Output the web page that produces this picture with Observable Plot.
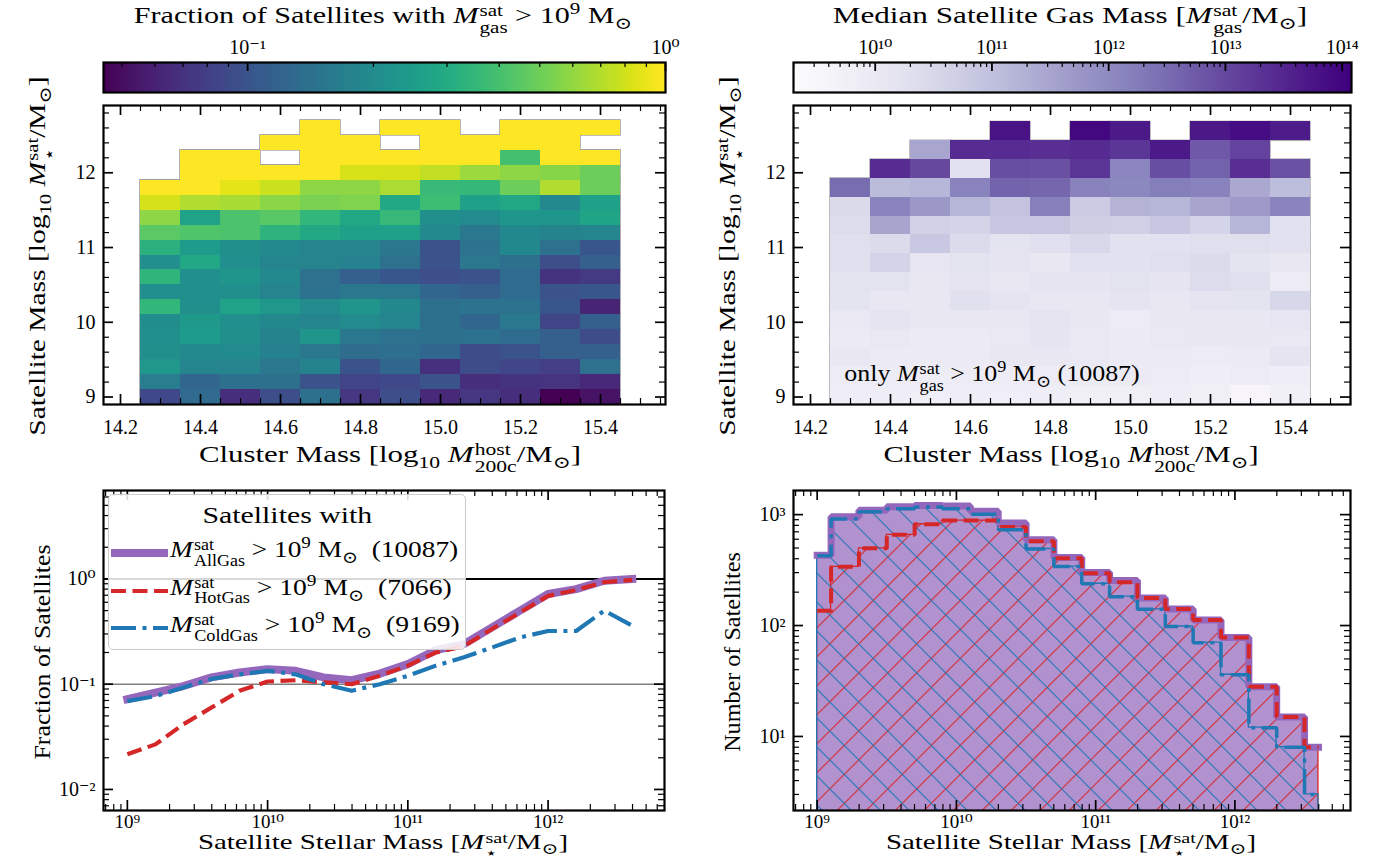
<!DOCTYPE html>
<html><head><meta charset="utf-8">
<script src="https://cdn.jsdelivr.net/npm/d3@7"></script>
<script src="https://cdn.jsdelivr.net/npm/@observablehq/plot@0.6"></script>
<style>
html,body{margin:0;padding:0;background:#fff;}
#root{position:relative;width:1387px;height:863px;overflow:hidden;font-family:"Liberation Serif","DejaVu Serif",serif;color:#000;}
.t{position:absolute;white-space:nowrap;transform:translate(-50%,-50%);font-size:24px;line-height:1;}
.ss{display:inline-flex;flex-direction:column;vertical-align:0.42em;font-size:0.7em;line-height:1;margin-left:1px;text-align:left;}
.ss>span{display:block;}
sub.o,sup.o{font-size:0.7em;line-height:0;}
.legend{position:absolute;background:rgba(255,255,255,0.85);border:1.5px solid #ccc;border-radius:5px;box-sizing:border-box;}
.lrow{position:absolute;white-space:nowrap;font-size:24px;line-height:1;transform:translateY(-50%);}
.lrow .ss{font-size:0.66em;vertical-align:0.45em;}
.ltxt{display:inline-block;transform-origin:0 50%;}
</style></head>
<body><div id="root"></div>
<script>
// ================= DATA =================
// Top-left: fraction of satellites with M_gas > 1e9 Msun, per (cluster mass, satellite mass) bin
const hostMassEdges = [14.25,14.35,14.45,14.55,14.65,14.75,14.85,14.95,15.05,15.15,15.25,15.35,15.45];
const satMassEdgesFrac = [12.7,12.5,12.3,12.1,11.9,11.7,11.5,11.3,11.1,10.9,10.7,10.5,10.3,10.1,9.9,9.7,9.5,9.3,9.1,8.9]; // top -> bottom
const N = null;
const gasFraction = [
 [N,N,N,N,1,N,1,1,N,1,1,1],
 [N,N,N,1,1,1,N,1,1,1,1,N],
 [N,1,1,N,1,1,1,1,1,0.395,1,1],
 [N,1,1,1,1,0.83,0.818,0.757,0.63,0.59,0.573,0.498],
 [1,1,0.883,0.78,0.59,0.59,0.679,0.366,0.354,0.498,0.69,0.498],
 [0.818,0.69,0.668,0.582,0.538,0.547,0.29,0.377,0.26,0.285,0.194,0.26],
 [0.59,0.268,0.414,0.447,0.349,0.285,0.36,0.2125,0.2,0.23,0.23,0.277],
 [0.454,0.427,0.414,0.333,0.29,0.26,0.26,0.194,0.156,0.191,0.18,0.185],
 [0.328,0.244,0.2125,0.194,0.182,0.182,0.154,0.0995,0.147,0.191,0.142,0.104],
 [0.209,0.29,0.21,0.185,0.182,0.177,0.142,0.0995,0.154,0.14,0.0935,0.114],
 [0.338,0.21,0.226,0.194,0.142,0.114,0.104,0.0935,0.0995,0.132,0.0708,0.0753],
 [0.209,0.21,0.2125,0.182,0.144,0.156,0.156,0.126,0.114,0.132,0.0995,0.103],
 [0.349,0.2125,0.268,0.237,0.197,0.226,0.191,0.14,0.147,0.144,0.103,0.0616],
 [0.204,0.24,0.209,0.191,0.185,0.197,0.185,0.14,0.126,0.156,0.084,0.114],
 [0.21,0.244,0.2125,0.18,0.226,0.156,0.142,0.14,0.144,0.132,0.114,0.092],
 [0.2125,0.194,0.2,0.175,0.156,0.134,0.136,0.126,0.092,0.0995,0.114,0.114],
 [0.237,0.185,0.182,0.154,0.18,0.0995,0.126,0.0697,0.092,0.0865,0.0789,0.142],
 [0.166,0.126,0.14,0.14,0.0995,0.084,0.088,0.0995,0.0676,0.0708,0.0719,0.0635],
 [0.088,0.13,0.0676,0.095,0.14,0.0741,0.0935,0.0635,0.0741,0.0676,0.0452,0.0527]
];
// Top-right: median satellite gas mass (log10 Msun)
const satMassEdgesGas = [12.68,12.428,12.176,11.924,11.672,11.42,11.168,10.916,10.664,10.412,10.16,9.908,9.656,9.404,9.152,8.9]; // top -> bottom
const medianGasLog = [
 [N,N,N,N,13.79,N,13.98,13.7,N,13.72,13.89,13.65],
 [N,N,11.5,13.41,13.41,13.39,13.43,13.27,13.7,12.79,13.08,N],
 [N,13.41,13.0,10.26,12.93,12.91,13.29,12.1,12.93,12.65,13.39,12.89],
 [12.5,11.12,11.21,12.12,12.65,12.6,12.17,12.07,12.22,12.14,11.45,11.07],
 [10.45,12.12,11.74,11.21,10.95,12.19,10.78,11.26,11.21,11.52,11.71,12.12],
 [10.4,11.52,10.64,10.59,10.88,10.9,10.73,10.71,10.88,10.61,11.21,10.26],
 [10.33,10.42,10.85,10.42,10.21,10.3,10.5,10.26,10.26,10.33,10.33,10.26],
 [10.33,10.59,10.14,10.23,10.18,10.09,10.26,10.26,10.33,10.42,10.21,10.06],
 [10.23,10.23,10.09,10.16,10.09,10.18,10.18,10.23,10.18,10.4,10.33,9.91],
 [10.21,10.09,10.09,10.3,10.16,10.04,10.04,10.18,10.09,10.18,10.21,10.52],
 [10.02,10.16,10.09,10.09,10.09,10.16,10.06,9.91,10.04,10.09,10.06,10.14],
 [9.95,10.02,9.95,9.97,10.02,10.16,10.02,9.97,10.02,10.04,10.04,10.02],
 [10.04,9.97,9.95,9.97,10.04,10.04,10.02,9.97,9.97,9.91,9.95,10.16],
 [9.91,9.91,9.9,9.92,9.9,9.93,9.95,9.97,9.91,9.85,9.91,9.85],
 [9.85,9.84,9.83,9.84,9.82,9.84,9.78,9.8,9.85,9.8,9.54,9.75]
];
// Bottom-left: fraction of satellites vs stellar mass
const stellarMassLog = [9.0,9.2,9.4,9.6,9.8,10.0,10.2,10.4,10.6,10.8,11.0,11.2,11.4,11.6,11.8,12.0,12.2,12.4,12.6];
const fracAllGas  = [0.072,0.083,0.096,0.116,0.129,0.139,0.134,0.116,0.109,0.126,0.155,0.211,0.240,0.347,0.50,0.72,0.80,0.96,1.0];
const fracHotGas  = [0.0216,0.0268,0.0416,0.060,0.0865,0.106,0.109,0.104,0.100,0.120,0.150,0.200,0.230,0.334,0.48,0.69,0.785,0.93,0.98];
const fracColdGas = [0.069,0.077,0.093,0.112,0.124,0.134,0.124,0.100,0.0865,0.100,0.120,0.150,0.180,0.223,0.278,0.32,0.32,0.50,0.36];
const refLevels = [1, 0.1];
const legendLabels = ["AllGas","HotGas","ColdGas"];
const legendCounts = [10087, 7066, 9169];
// Bottom-right: histograms of satellite stellar mass
const histEdgesLog = [9.0,9.1,9.3,9.5,9.7,9.9,10.1,10.3,10.5,10.7,10.9,11.1,11.3,11.5,11.7,11.9,12.1,12.3,12.5,12.6];
const countAllGas  = [430,955,1095,1175,1210,1195,1075,840,595,410,300,255,177,141,112,78,28,15,8];
const countHotGas  = [136,338,497,657,819,883,883,773,575,404,296,246,177,141,112,78,28,15,8];
const countColdGas = [425,915,1060,1130,1170,1130,1010,730,490,340,238,182,140,98,70,36,12,8,3];
// ticks
const hostTicks = [14.2,14.4,14.6,14.8,15.0,15.2,15.4];
const satTicks = [9,10,11,12];
const logTicksMass = [1e9,1e10,1e11,1e12];
const fracTicks = [0.01,0.1,1];
const countTicks = [10,100,1000];
const cbFracTicks = [0.1,1];
const cbGasTicks = [1e10,1e11,1e12,1e13,1e14];
const cbFracDomain = [10**-1.345, 1];
const cbGasDomain = [10**9.3, 10**14.08];

// ================= HELPERS =================
const root = document.getElementById("root");
const FONT = '"Liberation Serif","DejaVu Serif",serif';
const supMap = {"0":"⁰","1":"¹","2":"²","3":"³","4":"⁴","5":"⁵","6":"⁶","7":"⁷","8":"⁸","9":"⁹","-":"⁻"};
const pow10 = d => "10" + String(Math.round(Math.log10(d))).split("").map(c => supMap[c]).join("");
function minorLog(domain) {
  const out = [];
  for (let e = Math.floor(Math.log10(domain[0])); e <= Math.ceil(Math.log10(domain[1])); e++)
    for (let m = 2; m <= 9; m++) { const v = m * 10 ** e; if (v >= domain[0] && v <= domain[1]) out.push(v); }
  return out;
}
function inside(arr, dom) { return arr.filter(v => v >= Math.min(...dom) - 1e-9 && v <= Math.max(...dom) + 1e-9); }
function frameTicks(xMaj, xMin, yMaj, yMin, w, h) {
  const M = 10, m = 6, st = {stroke: "#000"};
  return [
    Plot.tickX(xMaj, {x: d => d, insetTop: h - M, strokeWidth: 1.7, ...st}),
    Plot.tickX(xMaj, {x: d => d, insetBottom: h - M, strokeWidth: 1.7, ...st}),
    Plot.tickX(xMin, {x: d => d, insetTop: h - m, strokeWidth: 1.2, ...st}),
    Plot.tickX(xMin, {x: d => d, insetBottom: h - m, strokeWidth: 1.2, ...st}),
    Plot.tickY(yMaj, {y: d => d, insetRight: w - M, strokeWidth: 1.7, ...st}),
    Plot.tickY(yMaj, {y: d => d, insetLeft: w - M, strokeWidth: 1.7, ...st}),
    Plot.tickY(yMin, {y: d => d, insetRight: w - m, strokeWidth: 1.2, ...st}),
    Plot.tickY(yMin, {y: d => d, insetLeft: w - m, strokeWidth: 1.2, ...st})
  ];
}
function makePanel({L, R, T, B, x, y, color, marks, ml = 80, mr = 20, mt = 20, mb = 50}) {
  const svg = Plot.plot({
    width: R - L + ml + mr, height: B - T + mt + mb,
    marginLeft: ml, marginRight: mr, marginTop: mt, marginBottom: mb,
    x, y, color, marks,
    style: {fontFamily: FONT, fontSize: "20px", background: "none", overflow: "visible", color: "#000"}
  });
  svg.style.position = "absolute"; svg.style.left = (L - ml) + "px"; svg.style.top = (T - mt) + "px";
  root.appendChild(svg);
  return svg;
}
const fitters = [];
function text(html, cx, cy, target, rotated = false, size = 24) {
  const d = document.createElement("div");
  d.className = "t"; d.innerHTML = html;
  d.style.left = cx + "px"; d.style.top = cy + "px"; d.style.fontSize = size + "px";
  root.appendChild(d);
  fitters.push(() => {
    const s = target ? target / d.offsetWidth : 1;
    d.style.transform = `translate(-50%,-50%)${rotated ? " rotate(-90deg)" : ""} scaleX(${s})`;
  });
  return d;
}
const Msym = (sup, sub) => `<i>M</i><span class="ss"><span>${sup}</span><span>${sub}</span></span>`;
const Msun = `M<sub class="o">⊙</sub>`;
const ten = e => `10<sup class="o">${e}</sup>`;
const log10 = `log<sub class="o">10</sub>`;

function gridCells(grid, rowEdges, colEdges, transform = v => v) {
  const cells = [];
  grid.forEach((row, r) => row.forEach((v, c) => {
    if (v == null) return;
    cells.push({x1: colEdges[c], x2: colEdges[c + 1], y1: rowEdges[r + 1], y2: rowEdges[r], v: transform(v)});
  }));
  return cells;
}

// ================= TOP PANELS =================
function heatPanel({L, R, xd, grid, rowEdges, transform, color, outline}) {
  const T = 105, B = 404, yd = [8.9, 12.9];
  const cells = gridCells(grid, rowEdges, hostMassEdges, transform);
  const xMin = d3.range(283, 313).filter(i => i % 4 !== 0).map(i => i / 20);
  const yMin = d3.range(44, 65).filter(i => i % 5 !== 0).map(i => i / 5);
  makePanel({L, R, T, B,
    x: {domain: xd}, y: {domain: yd}, color,
    marks: [
      Plot.rect(cells, {x1: "x1", x2: "x2", y1: "y1", y2: "y2", stroke: outline, strokeWidth: 1.6, fill: "none"}),
      Plot.rect(cells, {x1: "x1", x2: "x2", y1: "y1", y2: "y2", fill: "v", shapeRendering: "crispEdges"}),
      ...frameTicks(hostTicks, inside(xMin, xd), satTicks, inside(yMin, yd), R - L, B - T),
      Plot.frame({stroke: "#000", strokeWidth: 2.2}),
      Plot.axisX(hostTicks, {anchor: "bottom", tickSize: 0, tickPadding: 15, tickFormat: d3.format(".1f"), label: null, fontSize: 20}),
      Plot.axisY(satTicks, {anchor: "left", tickSize: 0, tickPadding: 8, tickFormat: d => d, label: null, fontSize: 20})
    ]});
}
heatPanel({L: 103, R: 665, xd: [14.1575, 15.5625], grid: gasFraction, rowEdges: satMassEdgesFrac, transform: v => v,
  color: {type: "log", scheme: "viridis", domain: cbFracDomain}, outline: "#a0a0a0"});
heatPanel({L: 793, R: 1350, xd: [14.1575, 15.55], grid: medianGasLog, rowEdges: satMassEdgesGas, transform: v => 10 ** v,
  color: {type: "log", scheme: "purples", domain: cbGasDomain}, outline: "#b0b0b0"});

// ================= COLORBARS =================
function colorbar({L, R, T, B, domain, scheme, majors}) {
  const n = 280, l0 = Math.log10(domain[0]), l1 = Math.log10(domain[1]);
  const ramp = d3.range(n).map(i => ({a: 10 ** (l0 + (l1 - l0) * i / n), b: 10 ** (l0 + (l1 - l0) * (i + 1.6) / n)}));
  ramp.forEach(d => d.c = Math.sqrt(d.a * d.b));
  const h = B - T;
  makePanel({L, R, T, B, ml: 20, mr: 30, mt: 40, mb: 10,
    x: {type: "log", domain}, y: {domain: [0, 1], axis: null},
    color: {type: "log", scheme, domain},
    marks: [
      Plot.rect(ramp, {x1: "a", x2: d => Math.min(d.b, domain[1]), fill: "c"}),
      Plot.tickX(inside(majors, domain), {x: d => d, insetBottom: h - 9, stroke: "#000", strokeWidth: 1.8}),
      Plot.tickX(minorLog(domain), {x: d => d, insetBottom: h - 5, stroke: "#000", strokeWidth: 1.2}),
      Plot.frame({stroke: "#000", strokeWidth: 2.2}),
      Plot.axisX(inside(majors, domain), {anchor: "top", tickSize: 0, tickPadding: 9, tickFormat: pow10, label: null, fontSize: 20})
    ]});
}
colorbar({L: 103, R: 665, T: 62, B: 92, domain: cbFracDomain, scheme: "viridis", majors: cbFracTicks});
colorbar({L: 793, R: 1351, T: 62, B: 92, domain: cbGasDomain, scheme: "purples", majors: cbGasTicks});

// ================= BOTTOM LEFT =================
{
  const L = 103, R = 664, T = 490, B = 810;
  const xd = [10 ** 8.83, 10 ** 12.83], yd = [10 ** -2.2, 10 ** 0.84];
  const rows = stellarMassLog.map((m, i) => ({m: 10 ** m, all: fracAllGas[i], hot: fracHotGas[i], cold: fracColdGas[i]}));
  makePanel({L, R, T, B,
    x: {type: "log", domain: xd}, y: {type: "log", domain: yd},
    marks: [
      Plot.ruleY([refLevels[0]], {y: d => d, stroke: "#000", strokeWidth: 2}),
      Plot.ruleY([refLevels[1]], {y: d => d, stroke: "#7f7f7f", strokeWidth: 1.6}),
      Plot.line(rows, {x: "m", y: "all", stroke: "#9467bd", strokeWidth: 8, strokeLinecap: "square", strokeLinejoin: "round"}),
      Plot.line(rows, {x: "m", y: "hot", stroke: "#d62728", strokeWidth: 4.2, strokeDasharray: "15,6.5", strokeLinecap: "butt"}),
      Plot.line(rows, {x: "m", y: "cold", stroke: "#1f77b4", strokeWidth: 4.2, strokeDasharray: "25,6.5,4,6.5", strokeLinecap: "butt"}),
      ...frameTicks(logTicksMass, minorLog(xd), inside(fracTicks, yd), minorLog(yd), R - L, B - T),
      Plot.frame({stroke: "#000", strokeWidth: 2.2}),
      Plot.axisX(logTicksMass, {anchor: "bottom", tickSize: 0, tickPadding: 4, tickFormat: pow10, label: null, fontSize: 19}),
      Plot.axisY(inside(fracTicks, yd), {anchor: "left", tickSize: 0, tickPadding: 8, tickFormat: pow10, label: null, fontSize: 20})
    ]});
}
// ================= BOTTOM RIGHT =================
{
  const L = 793, R = 1350, T = 490, B = 810;
  const xd = [10 ** 8.83, 10 ** 12.83], yd = [2.15, 1650];
  const base = 1;
  const edges = histEdgesLog.map(e => 10 ** e);
  function steps(counts, ends = true) {
    const pts = ends ? [{x: edges[0], y: base}] : [];
    counts.forEach((c, i) => { pts.push({x: edges[i], y: c}, {x: edges[i + 1], y: c}); });
    if (ends) pts.push({x: edges[edges.length - 1], y: base});
    return pts;
  }
  const svg = makePanel({L, R, T, B,
    x: {type: "log", domain: xd}, y: {type: "log", domain: yd},
    marks: [
      Plot.areaY(steps(countAllGas), {x: "x", y1: base, y2: "y", fill: "#9467bd", fillOpacity: 0.72, clip: true}),
      Plot.areaY(steps(countHotGas), {x: "x", y1: base, y2: "y", fill: "url(#hatchRed)", stroke: "#d62728", strokeWidth: 1.3, clip: true}),
      Plot.areaY(steps(countColdGas), {x: "x", y1: base, y2: "y", fill: "url(#hatchBlue)", stroke: "#1f77b4", strokeWidth: 1.3, clip: true}),
      Plot.line(steps(countAllGas, false), {x: "x", y: "y", stroke: "#9467bd", strokeWidth: 7, strokeLinejoin: "miter", strokeLinecap: "square", clip: true}),
      Plot.line(steps(countHotGas, false), {x: "x", y: "y", stroke: "#d62728", strokeWidth: 4, strokeDasharray: "15,6.5", strokeLinejoin: "miter", strokeLinecap: "butt", clip: true}),
      Plot.line(steps(countColdGas, false), {x: "x", y: "y", stroke: "#1f77b4", strokeWidth: 3.5, strokeDasharray: "25,6.5,4,6.5", strokeLinejoin: "miter", strokeLinecap: "butt", clip: true}),
      ...frameTicks(logTicksMass, minorLog(xd), inside(countTicks, yd), minorLog(yd), R - L, B - T),
      Plot.frame({stroke: "#000", strokeWidth: 2.2}),
      Plot.axisX(logTicksMass, {anchor: "bottom", tickSize: 0, tickPadding: 4, tickFormat: pow10, label: null, fontSize: 19}),
      Plot.axisY(inside(countTicks, yd), {anchor: "left", tickSize: 0, tickPadding: 8, tickFormat: pow10, label: null, fontSize: 20})
    ]});
  const defs = d3.select(svg).insert("defs", ":first-child");
  [["hatchRed", "#d62728", 45], ["hatchBlue", "#1f77b4", -45]].forEach(([id, col, ang]) => {
    const p = defs.append("pattern").attr("id", id).attr("patternUnits", "userSpaceOnUse")
      .attr("width", 20.5).attr("height", 20.5).attr("patternTransform", `rotate(${ang})`);
    p.append("line").attr("x1", 0).attr("y1", -2).attr("x2", 0).attr("y2", 23).attr("stroke", col).attr("stroke-width", 2.2);
  });
}

// ================= TEXT =================
text(`Fraction of Satellites with ${Msym("sat", "gas")} &gt; ${ten(9)} ${Msun}`, 383, 20, 498);
text(`Median Satellite Gas Mass [${Msym("sat", "gas")}/${Msun}]`, 1070, 20, 474);
text(`Cluster Mass [${log10} ${Msym("host", "200c")}/${Msun}]`, 390, 459, 382);
text(`Cluster Mass [${log10} ${Msym("host", "200c")}/${Msun}]`, 1071, 459, 375);
text(`Satellite Mass [${log10} ${Msym("sat", "⋆")}/${Msun}]`, 42, 256, 360, true);
text(`Satellite Mass [${log10} ${Msym("sat", "⋆")}/${Msun}]`, 732, 256, 360, true);
text(`only ${Msym("sat", "gas")} &gt; ${ten(9)} ${Msun} (${legendCounts[0]})`, 992, 378, 295);
text(`Fraction of Satellites`, 42, 652, 215, true);
text(`Number of Satellites`, 732, 652, 200, true);
text(`Satellite Stellar Mass [${Msym("sat", "⋆")}/${Msun}]`, 383, 845, 370, false, 22);
text(`Satellite Stellar Mass [${Msym("sat", "⋆")}/${Msun}]`, 1071, 845, 370, false, 22);

// legend (bottom-left)
{
  const lg = document.createElement("div");
  lg.className = "legend";
  Object.assign(lg.style, {left: "108px", top: "494px", width: "358px", height: "156px"});
  root.appendChild(lg);
  const title = document.createElement("div");
  title.className = "lrow"; title.style.left = "0"; title.style.width = "100%"; title.style.textAlign = "center";
  title.style.top = "20px"; title.innerHTML = `<span class="ltxt" style="transform-origin:50% 50%">Satellites with</span>`;
  lg.appendChild(title);
  const tspan = title.firstChild;
  fitters.push(() => { tspan.style.transform = `scaleX(${170 / tspan.offsetWidth})`; });
  const styles = [
    {stroke: "#9467bd", w: 8, dash: ""},
    {stroke: "#d62728", w: 4.2, dash: "15,6.5"},
    {stroke: "#1f77b4", w: 4.2, dash: "25,6.5,4,6.5"}
  ];
  const targets = [288, 282, 290];
  legendLabels.forEach((lab, i) => {
    const s = styles[i];
    const y = 58 + 37.5 * i;
    const sw = document.createElementNS("http://www.w3.org/2000/svg", "svg");
    sw.setAttribute("width", 60); sw.setAttribute("height", 12);
    Object.assign(sw.style, {position: "absolute", left: "1px", top: (y - 6) + "px"});
    sw.innerHTML = `<line x1="1" x2="58" y1="6" y2="6" stroke="${s.stroke}" stroke-width="${s.w}" stroke-dasharray="${s.dash}"/>`;
    lg.appendChild(sw);
    const row = document.createElement("div");
    row.className = "lrow"; row.style.left = "61px"; row.style.top = y + "px";
    row.innerHTML = `<span class="ltxt">${Msym("sat", lab)} &gt; ${ten(9)} ${Msun}&nbsp; (${legendCounts[i]})</span>`;
    lg.appendChild(row);
    const sp = row.firstChild;
    fitters.push(() => { sp.style.transform = `scaleX(${targets[i] / sp.offsetWidth})`; });
  });
}
fitters.forEach(f => f());
if (document.fonts && document.fonts.ready) document.fonts.ready.then(() => fitters.forEach(f => f()));
</script></body></html>
